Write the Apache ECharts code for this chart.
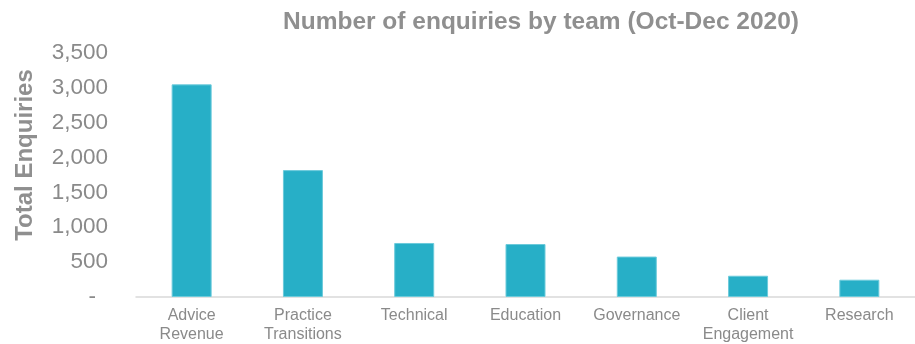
<!DOCTYPE html>
<html><head><meta charset="utf-8">
<script src="https://cdn.jsdelivr.net/npm/echarts@6/dist/echarts.min.js"></script>
<style>html,body{margin:0;padding:0;background:#fff}#c{width:915px;height:344px}</style>
</head><body><div id="c"></div>
<script>
const categories = ['Advice\nRevenue','Practice\nTransitions','Technical','Education','Governance','Client\nEngagement','Research'];
const enquiries = [3050, 1820, 775, 760, 580, 305, 248];
const yTicks = [0, 500, 1000, 1500, 2000, 2500, 3000, 3500];

const chart = echarts.init(document.getElementById('c'));
chart.setOption({
  animation: false,
  title: {
    text: 'Number of enquiries by team (Oct-Dec 2020)',
    left: 536, top: 5, textAlign: 'center',
    textStyle: {fontFamily: 'Liberation Sans, Arial', fontWeight: 'bold', fontSize: 24.5, color: '#8f8f8f'}
  },
  grid: {left: 136, top: 53, width: 786, height: 244.5, containLabel: false},
  xAxis: {
    type: 'category', data: categories,
    axisLine: {lineStyle: {color: '#d9d9d9', width: 1.5}},
    axisTick: {show: false},
    axisLabel: {fontFamily: 'Liberation Sans, Arial', fontSize: 16, color: '#8a8a8a', lineHeight: 19, margin: 9, interval: 0}
  },
  yAxis: {
    type: 'value', min: yTicks[0], max: yTicks[yTicks.length-1], interval: 500,
    name: 'Total Enquiries', nameLocation: 'middle', nameGap: 99, nameRotate: 90,
    nameTextStyle: {fontFamily: 'Liberation Sans, Arial', fontWeight: 'bold', fontSize: 24, color: '#8f8f8f', padding: [0, 0, 0, 40]},
    splitLine: {show: false},
    axisLine: {show: false}, axisTick: {show: false},
    axisLabel: {
      fontFamily: 'Liberation Sans, Arial', fontSize: 22.5, color: '#8a8a8a', margin: 28,
      formatter: v => v === 0 ? '{z|-}' : v.toLocaleString('en-US'),
      rich: {z: {fontFamily: 'Liberation Sans, Arial', fontSize: 22.5, color: '#8a8a8a', padding: [0, 12, 0, 0]}}
    }
  },
  series: [{
    type: 'bar', data: enquiries, barWidth: 40,
    itemStyle: {color: '#27afc7', borderColor: '#6ccbdb', borderWidth: 1}
  }]
});
</script></body></html>
